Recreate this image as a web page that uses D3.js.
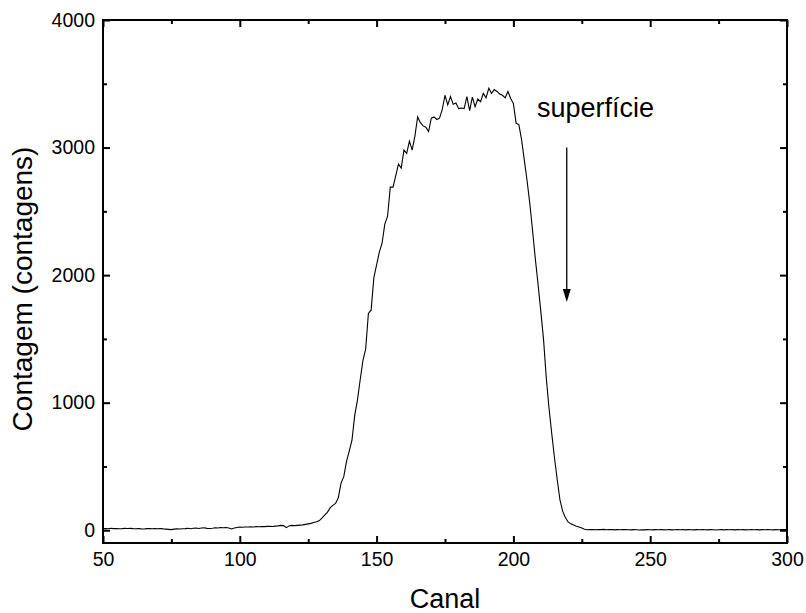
<!DOCTYPE html>
<html>
<head>
<meta charset="utf-8">
<script src="https://cdn.jsdelivr.net/npm/d3@7"></script>
<style>
  body { margin: 0; background: #fff; }
  text { font-family: "Liberation Sans", Arial, Helvetica, sans-serif; fill: #000; }
</style>
</head>
<body>
<div id="chart"></div>
<script>
"use strict";

// spectrum: one count per channel, starting at channel 50
let firstChannel = 50;
let counts = [
  13, 14, 12, 15, 13, 14, 12, 13, 15, 14,
  15, 13, 12, 14, 11, 10, 13, 14, 12, 13,
  12, 14, 11, 9, 7, 5, 9, 11, 10, 12,
  13, 15, 12, 16, 18, 14, 17, 19, 15, 14,
  16, 20, 18, 22, 19, 21, 18, 10, 17, 22,
  25, 24, 26, 25, 27, 26, 28, 27, 29, 28,
  30, 31, 29, 32, 34, 38, 36, 20, 34, 38,
  36, 38, 40, 42, 46, 50, 54, 60, 66, 74,
  95, 118, 140, 175, 195, 210, 255, 370, 420, 540,
  620, 706, 900, 1020, 1180, 1330, 1420, 1700, 1725, 1980,
  2080, 2180, 2250, 2400, 2460, 2690, 2690, 2780, 2870, 2840,
  2980, 2955, 3050, 2980, 3090, 3240, 3195, 3170, 3160, 3125,
  3230, 3240, 3220, 3230, 3300, 3410, 3335, 3400, 3340, 3350,
  3305, 3310, 3305, 3400, 3290, 3395, 3320, 3380, 3360, 3425,
  3390, 3465, 3425, 3455, 3440, 3420, 3410, 3390, 3440, 3385,
  3345, 3190, 3180, 3060, 2900, 2740, 2560, 2350, 2130, 1930,
  1720, 1500, 1200, 960, 760, 570, 400, 240, 150, 100,
  65, 50, 42, 32, 26, 18, 8, 4, 6, 5,
  4, 6, 5, 7, 4, 5, 6, 3, 5, 4,
  6, 5, 4, 3, 5, 4, 2, 4, 3, 5,
  4, 3, 5, 4, 6, 3, 4, 5, 3, 4,
  5, 4, 6, 3, 5, 4, 3, 5, 4, 6,
  4, 3, 5, 4, 2, 4, 5, 3, 6, 4,
  5, 3, 6, 4, 5, 3, 4, 6, 4, 5,
  3, 5, 4, 6, 4, 3, 5, 4, 6, 5,
  5
];

let xTicks = [50, 100, 150, 200, 250, 300];
let xMinorTicks = [75, 125, 175, 225, 275];
let yTicks = [0, 1000, 2000, 3000, 4000];
let yMinorTicks = [500, 1500, 2500, 3500];

// annotation: label and arrow pointing at the surface channel
let surfaceLabel = "superfície";
let surfaceChannel = 219.5;
let arrowFrom = 3000, arrowTo = 1790;

var width = 806,
    height = 613,
    plotLeft = 103, plotRight = 787,
    plotTop = 20, plotBottom = 543;

var x = d3.scaleLinear().domain([50, 300]).range([plotLeft, plotRight]);
var y = d3.scaleLinear().domain([-100, 4000]).range([plotBottom, plotTop]);

var svg = d3.select('#chart').append('svg')
  .attr('width', width)
  .attr('height', height);

// the curve
var line = d3.line()
  .x(function(d, i) { return x(firstChannel + i); })
  .y(function(d) { return y(d); });

svg.append('path')
  .datum(counts)
  .attr('d', line)
  .attr('fill', 'none')
  .attr('stroke', '#000')
  .attr('stroke-width', 1.1)
  .attr('stroke-linejoin', 'miter');

// axes, ticks pointing inwards
function styleAxis(g) {
  g.select('.domain').remove();
  g.selectAll('.tick line').attr('stroke', '#000').attr('stroke-width', 2);
  g.selectAll('.tick text').style('font-size', '19.5px').attr('fill', '#000');
}

svg.append('g')
  .attr('transform', 'translate(0,' + plotBottom + ')')
  .call(d3.axisBottom(x).tickValues(xTicks).tickSizeInner(-7).tickSizeOuter(0).tickPadding(9).tickFormat(d3.format('d')))
  .call(styleAxis);
svg.append('g')
  .attr('transform', 'translate(0,' + plotBottom + ')')
  .call(d3.axisBottom(x).tickValues(xMinorTicks).tickSizeInner(-4).tickSizeOuter(0).tickFormat(''))
  .call(styleAxis);

svg.append('g')
  .attr('transform', 'translate(0,' + plotTop + ')')
  .call(d3.axisTop(x).tickValues(xTicks).tickSizeInner(-7).tickSizeOuter(0).tickFormat(''))
  .call(styleAxis);
svg.append('g')
  .attr('transform', 'translate(0,' + plotTop + ')')
  .call(d3.axisTop(x).tickValues(xMinorTicks).tickSizeInner(-4).tickSizeOuter(0).tickFormat(''))
  .call(styleAxis);

svg.append('g')
  .attr('transform', 'translate(' + plotLeft + ',0)')
  .call(d3.axisLeft(y).tickValues(yTicks).tickSizeInner(-7).tickSizeOuter(0).tickPadding(8).tickFormat(d3.format('d')))
  .call(styleAxis);
svg.append('g')
  .attr('transform', 'translate(' + plotLeft + ',0)')
  .call(d3.axisLeft(y).tickValues(yMinorTicks).tickSizeInner(-4).tickSizeOuter(0).tickFormat(''))
  .call(styleAxis);

svg.append('g')
  .attr('transform', 'translate(' + plotRight + ',0)')
  .call(d3.axisRight(y).tickValues(yTicks).tickSizeInner(-7).tickSizeOuter(0).tickFormat(''))
  .call(styleAxis);
svg.append('g')
  .attr('transform', 'translate(' + plotRight + ',0)')
  .call(d3.axisRight(y).tickValues(yMinorTicks).tickSizeInner(-4).tickSizeOuter(0).tickFormat(''))
  .call(styleAxis);

// frame
svg.append('rect')
  .attr('x', plotLeft)
  .attr('y', plotTop)
  .attr('width', plotRight - plotLeft)
  .attr('height', plotBottom - plotTop)
  .attr('fill', 'none')
  .attr('stroke', '#000')
  .attr('stroke-width', 2);

// axis titles
svg.append('text')
  .attr('x', (plotLeft + plotRight) / 2)
  .attr('y', 608)
  .attr('text-anchor', 'middle')
  .style('font-size', '27px')
  .text('Canal');

svg.append('text')
  .attr('transform', 'translate(32,289) rotate(-90)')
  .attr('text-anchor', 'middle')
  .style('font-size', '28px')
  .text('Contagem (contagens)');

// annotation
svg.append('text')
  .attr('x', x(208.6))
  .attr('y', y(3239))
  .style('font-size', '27px')
  .text(surfaceLabel);

var ax = x(surfaceChannel),
    tip = y(arrowTo);
svg.append('line')
  .attr('x1', ax).attr('x2', ax)
  .attr('y1', y(arrowFrom)).attr('y2', tip - 12)
  .attr('stroke', '#000')
  .attr('stroke-width', 1.3);
svg.append('path')
  .attr('d', 'M' + (ax - 4) + ',' + (tip - 13) + 'L' + (ax + 4) + ',' + (tip - 13) + 'L' + ax + ',' + tip + 'Z')
  .attr('fill', '#000');

</script>
</body>
</html>
